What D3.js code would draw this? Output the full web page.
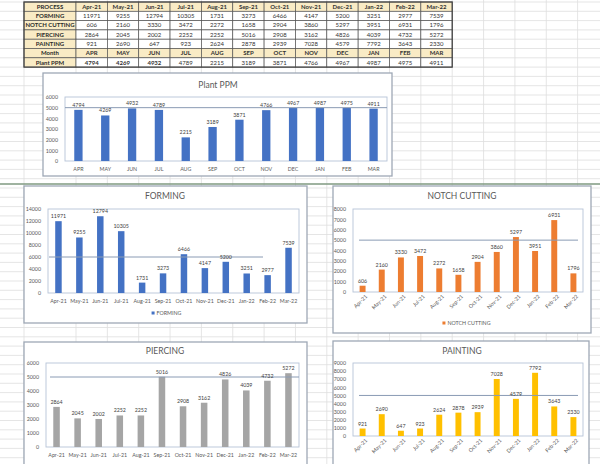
<!DOCTYPE html>
<html><head><meta charset="utf-8">
<script src="https://cdn.jsdelivr.net/npm/d3@7"></script>
<style>
body{margin:0;background:#fff;}
svg{display:block;font-family:Lato,"Open Sans",sans-serif;}
</style></head>
<body><svg id="c" width="600" height="464"></svg>
<script>
// ---------- DATA ----------
const months = ["Apr-21","May-21","Jun-21","Jul-21","Aug-21","Sep-21","Oct-21","Nov-21","Dec-21","Jan-22","Feb-22","Mar-22"];
const monthShort = ["APR","MAY","JUN","JUL","AUG","SEP","OCT","NOV","DEC","JAN","FEB","MAR"];
const forming  = [11971,9255,12794,10305,1731,3273,6466,4147,5200,3251,2977,7539];
const notch    = [606,2160,3330,3472,2272,1658,2904,3860,5297,3951,6931,1796];
const piercing = [2864,2045,2002,2252,2252,5016,2908,3162,4826,4039,4732,5272];
const painting = [921,2690,647,923,2624,2878,2939,7028,4579,7792,3643,2330];
const plantPPM = [4794,4269,4932,4789,2215,3189,3871,4766,4967,4987,4975,4911];
const processNames = ["FORMING","NOTCH CUTTING","PIERCING","PAINTING"];
const targets = {plant:5000, forming:6000, notch:5000, piercing:5000, painting:5000};

const svg = d3.select("#c");

// ---------- spreadsheet grid ----------
const colLines = [24,76];
for(let i=1;i<=17;i++) colLines.push(76 + i*31.35);
const grid = svg.append("g");
for(let y=2; y<=464; y+=9.3){
  grid.append("line").attr("x1",0).attr("x2",600).attr("y1",y).attr("y2",y).attr("stroke","#dedede").attr("stroke-width",0.8);
}
colLines.forEach(x=>grid.append("line").attr("x1",x).attr("x2",x).attr("y1",0).attr("y2",464).attr("stroke","#dedede").attr("stroke-width",0.8));
svg.append("line").attr("x1",0).attr("x2",600).attr("y1",184).attr("y2",184).attr("stroke","#7f9a80").attr("stroke-width",1.6);

// ---------- table ----------
const tb = svg.append("g");
const tX = 24, tY = 2, c0 = 52, cw = 31.35, rh = 9.3;
const tan = "#f9ebc5";
const rows = [
  {label:"PROCESS", vals:months, fill:tan, bold:true},
  {label:processNames[0], vals:forming},
  {label:processNames[1], vals:notch},
  {label:processNames[2], vals:piercing},
  {label:processNames[3], vals:painting},
  {label:"Month", vals:monthShort, fill:tan, bold:true},
  {label:"Plant PPM", vals:plantPPM, boldIdx:[0,1,2]}
];
rows.forEach((r,ri)=>{
  const y = tY + ri*rh;
  tb.append("rect").attr("x",tX).attr("y",y).attr("width",c0).attr("height",rh).attr("fill",tan).attr("stroke","#555").attr("stroke-width",0.7);
  tb.append("text").attr("x",tX+c0/2).attr("y",y+rh/2+2.2).attr("text-anchor","middle").attr("font-size",6).attr("font-weight","bold").attr("fill","#2b2b2b").text(r.label);
  r.vals.forEach((v,ci)=>{
    const x = tX + c0 + ci*cw;
    tb.append("rect").attr("x",x).attr("y",y).attr("width",cw).attr("height",rh).attr("fill",r.fill||"#fff").attr("stroke","#555").attr("stroke-width",0.7);
    const b = r.bold || (r.boldIdx && r.boldIdx.includes(ci));
    tb.append("text").attr("x",x+cw/2).attr("y",y+rh/2+2.2).attr("text-anchor","middle").attr("font-size",6).attr("font-weight",b?"bold":"normal").attr("fill","#333").text(v);
  });
});
tb.append("rect").attr("x",tX).attr("y",tY).attr("width",c0+12*cw).attr("height",7*rh).attr("fill","none").attr("stroke","#444").attr("stroke-width",1.2);

// ---------- charts ----------
function chart(o){
  const g = svg.append("g");
  g.append("rect").attr("x",o.frame[0]).attr("y",o.frame[1]).attr("width",o.frame[2]).attr("height",o.frame[3])
    .attr("fill","#fff").attr("stroke","#9ea8b6").attr("stroke-width",1.3);
  const [l,t,r,b] = o.plot;
  const x = d3.scaleBand().domain(o.labels).range([l,r]).paddingInner(0.69).paddingOuter(0.345);
  const y = d3.scaleLinear().domain([0,o.yMax]).range([b,t]);
  g.append("text").attr("x",o.titleX).attr("y",o.titleY).attr("text-anchor","middle").attr("font-size",8.5).attr("fill","#595959").text(o.title);
  // y axis
  const ya = g.append("g").attr("transform",`translate(${l-4},0)`)
    .call(d3.axisLeft(y).tickValues(d3.range(0,o.yMax+1,o.yStep)).tickSize(0).tickFormat(d3.format("d")));
  ya.select(".domain").remove();
  ya.selectAll("text").attr("font-size",5.3).attr("fill","#595959").attr("font-family","Lato,sans-serif");
  // plot box
  g.append("rect").attr("x",l).attr("y",t).attr("width",r-l).attr("height",b-t).attr("fill","none").attr("stroke","#b7c3d7").attr("stroke-width",0.9);
  // bars
  g.selectAll(".bar").data(o.values).join("rect")
    .attr("x",(d,i)=>x(o.labels[i])).attr("width",x.bandwidth())
    .attr("y",d=>y(d)).attr("height",d=>b-y(d)).attr("fill",o.color);
  // target line
  const tx1 = o.targetX1 ?? l, tx2 = o.targetX2 ?? r;
  g.append("line").attr("x1",tx1).attr("x2",tx2).attr("y1",y(o.target)).attr("y2",y(o.target)).attr("stroke","#8a9bb4").attr("stroke-width",1);
  // data labels
  g.selectAll(".dl").data(o.values).join("text")
    .attr("x",(d,i)=>x(o.labels[i])+x.bandwidth()/2).attr("y",d=>y(d)-3)
    .attr("text-anchor","middle").attr("font-size",5.3).attr("fill","#404040").text(d=>d);
  // x axis
  const xa = g.append("g").attr("transform",`translate(0,${b+2})`).call(d3.axisBottom(x).tickSize(0));
  xa.select(".domain").remove();
  xa.selectAll("text").attr("font-size",5.3).attr("fill","#595959").attr("font-family","Lato,sans-serif");
  if(o.rotate){
    xa.selectAll("text").attr("text-anchor","end").attr("dy","0.5em").attr("dx","0.3em").attr("transform","rotate(-45)");
  } else {
    xa.selectAll("text").attr("dy",o.xdy||"0.9em");
  }
  if(o.legend){
    const [lx,ly] = o.legend;
    const lg = g.append("text").attr("x",lx+2).attr("y",ly+2).attr("text-anchor","middle").attr("font-size",5.3).attr("fill","#595959").text(o.title);
    const w = lg.node().getComputedTextLength();
    g.append("rect").attr("x",lx+2-w/2-5).attr("y",ly-1.5).attr("width",3).attr("height",3).attr("fill",o.color);
  }
}

chart({frame:[43,73,349,103], plot:[65,97,387,161], labels:monthShort, values:plantPPM, yMax:6000, yStep:1000,
  color:"#4472c4", title:"Plant PPM", titleX:218, titleY:88, target:targets.plant});
chart({frame:[24,186,283,137], plot:[48,209,299,293], labels:months, values:forming, yMax:14000, yStep:2000,
  color:"#4472c4", title:"FORMING", titleX:165, titleY:199, target:targets.forming, targetX1:49, targetX2:263, legend:[167,313]});
chart({frame:[333,186,258,147], plot:[353,209,583,292], labels:months, values:notch, yMax:8000, yStep:1000,
  color:"#ed7d31", title:"NOTCH CUTTING", titleX:462, titleY:199, target:targets.notch, targetX1:359, targetX2:578, rotate:true, legend:[467,323]});
chart({frame:[24,342,283,140], plot:[46,363,299,447], labels:months, values:piercing, yMax:6000, yStep:1000,
  color:"#a5a5a5", title:"PIERCING", titleX:165, titleY:354, target:targets.piercing, targetX1:50, targetX2:299});
chart({frame:[333,341,256,140], plot:[353,363,583,436], labels:months, values:painting, yMax:9000, yStep:1000,
  color:"#ffc000", title:"PAINTING", titleX:462, titleY:354, target:targets.painting, targetX1:359, targetX2:578, rotate:true});
</script></body></html>
